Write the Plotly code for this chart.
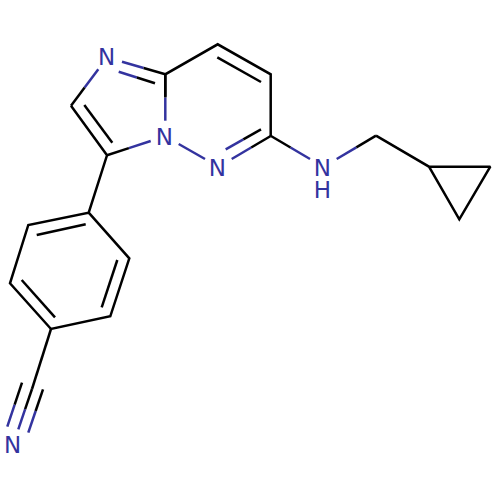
import plotly.graph_objects as go

BLACK = '#000000'
BLUE = '#33339f'

# atom labels in pixels
label_text = ['N', 'N', 'N', 'N', 'H', 'N']
label_x = [106.7, 164.3, 217.3, 322.3, 322.3, 12.7]
label_y = [59, 139.3, 170.3, 170.3, 192.7, 447]

# carbon-only bonds, each one a path through the atoms
carbon_paths = [
    [(71, 105.7), (107, 155.3), (88.7, 212.7), (28.3, 225), (10, 283.3), (51, 329),
     (110.3, 316.3), (129.3, 258.3), (88.7, 212.7)],
    [(165.3, 96.7), (165.3, 74.3), (217.7, 44.3), (270.7, 74.3), (270.7, 136)],
    [(376, 135.7), (429, 166.7), (490.3, 166.7), (459.3, 219.3), (429, 166.7)],
    [(51, 329), (32, 389)],
    [(84.3, 105), (112.3, 142.7)],
    [(85.7, 224.3), (36.7, 235)],
    [(21.7, 280), (55, 317.3)],
    [(101.7, 307.3), (117.3, 260)],
    [(261, 82), (217.3, 57.3)],
]

# bonds to a nitrogen: nitrogen end first, carbon end second, colour changes half way
hetero_bonds = [
    ((122, 61.7), (165.3, 74.3)),
    ((118.7, 71.7), (155, 83.3)),
    ((98.3, 69.3), (71, 105.7)),
    ((150.7, 141), (107, 155.3)),
    ((165.3, 120.7), (165.3, 74.3)),
    ((231.7, 159), (270.7, 136)),
    ((225.7, 149.3), (261, 129.3)),
    ((310, 159), (271, 136)),
    ((336.7, 159), (376, 135.7)),
    ((18.3, 429.3), (32, 389)),
    ((7.3, 426.7), (22, 382.7)),
    ((28.3, 432.7), (43, 389.3)),
]

# N-N bond is all blue
nitrogen_bonds = [((178.7, 144), (205, 159))]


def add_path(fig, pts, color):
    fig.add_trace(go.Scatter(x=[p[0] for p in pts], y=[p[1] for p in pts], mode='lines',
                             line=dict(color=color, width=2.5), hoverinfo='skip', showlegend=False))


fig = go.Figure()

for path in carbon_paths:
    add_path(fig, path, BLACK)

for n_end, c_end in hetero_bonds:
    mid = ((n_end[0] + c_end[0]) / 2, (n_end[1] + c_end[1]) / 2)
    add_path(fig, [n_end, mid], BLUE)
    add_path(fig, [mid, c_end], BLACK)

for a, b in nitrogen_bonds:
    add_path(fig, [a, b], BLUE)

fig.add_trace(go.Scatter(x=label_x, y=label_y, text=label_text, mode='text',
                         textposition='middle center',
                         textfont=dict(family='DejaVu Sans', size=23, color=BLUE),
                         hoverinfo='skip', showlegend=False))

fig.update_xaxes(range=[0, 500], visible=False)
fig.update_yaxes(range=[500, 0], visible=False)
fig.update_layout(width=500, height=500, margin=dict(l=0, r=0, t=0, b=0),
                  paper_bgcolor='white', plot_bgcolor='white')

fig.write_html('out.html', config={'displayModeBar': False},
               post_script="document.body.style.margin='0';")
